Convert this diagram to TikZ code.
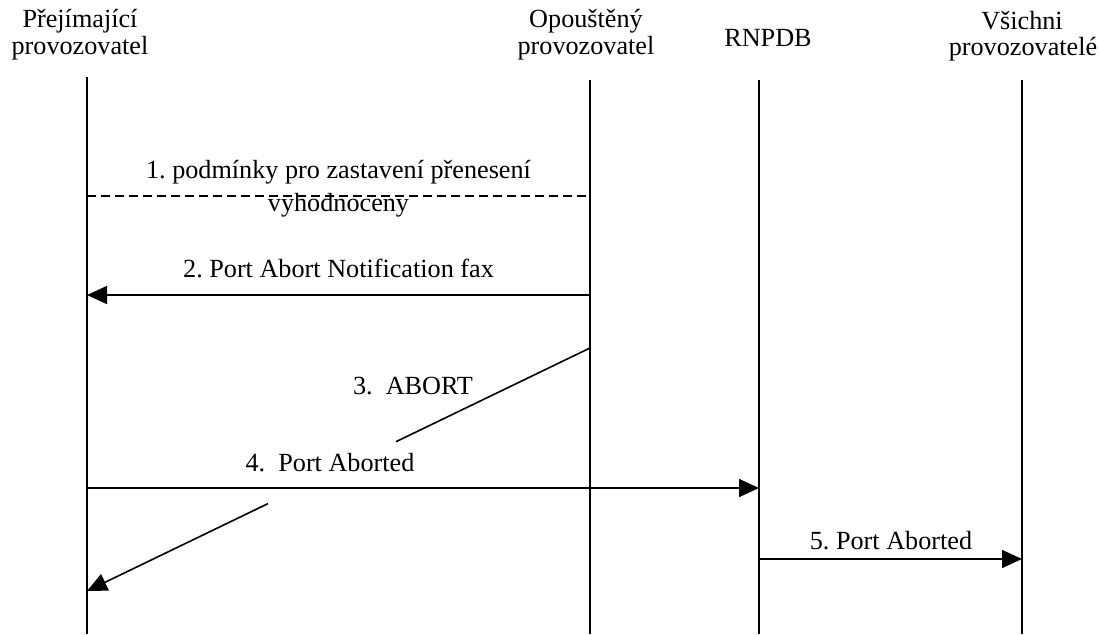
\documentclass[tikz,border=0pt]{standalone}
\usepackage{fontspec}
\setmainfont{Liberation Serif}
\usetikzlibrary{arrows.meta}
\begin{document}
\begin{tikzpicture}[x=1pt,y=-1pt,
  lbl/.style={font={\frenchspacing\fontsize{26.2}{30}\selectfont}, inner sep=0pt, anchor=base},
  life/.style={line width=1.6pt},
  msg/.style={line width=1.6pt,-{Triangle[length=20pt,width=18pt]}},
  plain/.style={line width=1.6pt},
  note/.style={line width=1.3pt, dash pattern=on 9pt off 5pt}]
\useasboundingbox (0,0) rectangle (1099,634);
% headers
\node[lbl] (hA1) at (80,28) {Přejímající};
\node[lbl] (hA2) at (80,55) {provozovatel};
\node[lbl] (hB1) at (586,28) {Opouštěný};
\node[lbl] (hB2) at (586,55) {provozovatel};
\node[lbl] (hC)  at (768,47) {RNPDB};
\node[lbl] (hD1) at (1022,30) {Všichni};
\node[lbl] (hD2) at (1023,56) {provozovatelé};
% lifelines
\coordinate (At) at (87,77);  \coordinate (Ab) at (87,634);
\coordinate (Bt) at (590,80); \coordinate (Bb) at (590,634);
\coordinate (Ct) at (759,80); \coordinate (Cb) at (759,634);
\coordinate (Dt) at (1022,80);\coordinate (Db) at (1022,634);
\draw[life] (At) -- (Ab);
\draw[life] (Bt) -- (Bb);
\draw[life] (Ct) -- (Cb);
\draw[life] (Dt) -- (Db);
% 1
\coordinate (m1a) at (87,196); \coordinate (m1b) at (590,196);
\draw[note] (m1a) -- (m1b);
\node[lbl] (l1a) at (338.5,178) {1. podmínky pro zastavení přenesení};
\node[lbl] (l1b) at (338.5,211) {vyhodnoceny};
% 2
\coordinate (m2a) at (590,295); \coordinate (m2b) at (87,295);
\draw[msg] (m2a) -- (m2b);
\node[lbl] (l2) at (338.5,277) {2. Port Abort Notification fax};
% 3 (diagonal, interrupted)
\coordinate (m3a) at (590,348); \coordinate (m3b) at (396,441.7);
\coordinate (m3c) at (268,503.6); \coordinate (m3d) at (87,591);
\draw[plain] (m3a) -- (m3b);
\draw[msg] (m3c) -- (m3d);
\node[lbl] (l3) at (413,394) {3.\ \ ABORT};
% 4
\coordinate (m4a) at (87,488); \coordinate (m4b) at (759,488);
\draw[msg] (m4a) -- (m4b);
\node[lbl] (l4) at (330,471) {4.\ \ Port Aborted};
% 5
\coordinate (m5a) at (759,559); \coordinate (m5b) at (1022,559);
\draw[msg] (m5a) -- (m5b);
\node[lbl] (l5) at (891,549) {5. Port Aborted};
\end{tikzpicture}
\end{document}
